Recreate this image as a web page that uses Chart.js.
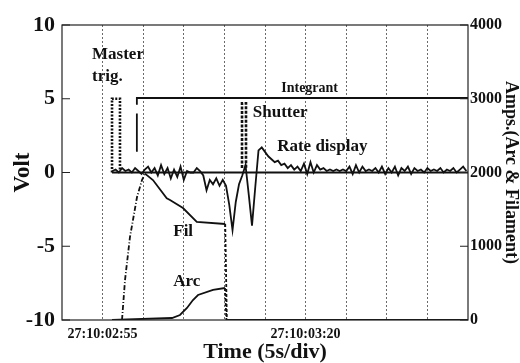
<!DOCTYPE html>
<html lang="en">
<head>
<meta charset="UTF-8">
<title>Shot trace</title>
<script src="https://cdn.jsdelivr.net/npm/chart.js"></script>
<style>
  html, body { margin: 0; padding: 0; overflow: hidden; background: #fff; }
</style>
</head>
<body>
<canvas id="scope" width="520" height="363"></canvas>
<script>
// time axis in seconds, left edge of the screen = 27:10:02:50, 5 s/div
const timeLabels = { 5: '27:10:02:55', 30: '27:10:03:20' };
const voltTicks = [-10, -5, 0, 5, 10];
const ampTicks = [0, 1000, 2000, 3000, 4000];

// [time s, volt]
const masterTrig = [[6.16, 0], [6.16, 5.0], [7.14, 5.0], [7.14, 0.1]];
const integrant = [[9.22, 1.4], [9.22, 4.0], [9.22, null], [9.22, 4.6], [9.22, 5.05], [50, 5.05]];
const shutter = [[22.17, 0.3], [22.17, 4.7], [22.66, 4.7], [22.66, 0.3]];
const zeroLine = [[6.16, 0], [50, 0]];

// rate display, sampled every 0.4 s from 6.2 s
const rateStart = 6.2;
const rateStep = 0.4;
const rateVolt = [
  0.1, 0.2, 0.0, 0.3, 0.1, 0.2, 0.0, 0.3, 0.1, -0.1,
  0.2, 0.4, 0.0, 0.3, -0.2, 0.5, -0.1, 0.3, -0.4, 0.2,
  -0.3, 0.4, -0.5, 0.1, 0.0, 0.0, 0.3, 0.1,
  -0.2, -1.2, -0.5, -0.8, -0.4, -0.9, -0.5, -0.9,
  -2.2, -3.9, -2.0, -0.8, -0.2, 0.5, -1.5, -3.6, -1.0, 1.5, 1.7, 1.4,
  1.1, 0.9, 0.7, 0.8, 0.5, 0.6, 0.3, 0.5, 0.2, 0.4, 0.1, 0.6,
  -0.1, 0.7, 0.0, 0.5, 0.2, 0.3, 0.1, 0.2, 0.1, 0.2,
  0.1, 0.2, 0.1, 0.4, -0.1, 0.5, 0.0, 0.4, 0.1, 0.2,
  0.1, 0.3, 0.0, 0.4, -0.1, 0.3, 0.0, 0.4, -0.2, 0.3,
  0.1, 0.4, -0.1, 0.3, 0.1, 0.2, 0.0, 0.3, 0.1, 0.2,
  0.1, 0.3, 0.0, 0.2, 0.1, 0.3, 0.0, 0.2, 0.4, 0.1
];

// [time s, amps]
const filAmps = [
  [7.39, 0], [7.76, 542], [8.37, 1125], [9.24, 1668], [9.85, 1898], [10.22, 1985],
  [11.2, 1898], [12.9, 1650], [13.3, 1627], [14.9, 1518], [16.6, 1329], [20.1, 1302],
  [20.3, 0], [50, 0]
];
const arcAmps = [
  [6.16, 0], [13.55, 27], [14.53, 68], [15.39, 163], [16.13, 271], [16.75, 339],
  [18.6, 407], [20.07, 434], [20.25, 0], [50, 0]
];

const labels = [
  { text: 'Master', t: 3.7, v: 7.97 },
  { text: 'trig.', t: 3.7, v: 6.47 },
  { text: 'Integrant', t: 27.0, v: 5.73, size: 14 },
  { text: 'Shutter', t: 23.5, v: 4.03 },
  { text: 'Rate display', t: 26.5, v: 1.73 },
  { text: 'Fil', t: 13.7, v: -4.03 },
  { text: 'Arc', t: 13.7, v: -7.42 }
];

const serif = "'Liberation Serif', 'DejaVu Serif', serif";
const toXY = arr => arr.map(p => ({ x: p[0], y: p[1] }));
const rateData = rateVolt.map((v, i) => [rateStart + i * rateStep, v]);

function line(data, extra) {
  return Object.assign({
    data: toXY(data),
    borderColor: '#111',
    borderWidth: 1.8,
    pointRadius: 0,
    tension: 0,
    fill: false,
    spanGaps: false,
    yAxisID: 'y'
  }, extra || {});
}

// tick marks pointing inward, plot frame and trace labels
const scopeDecor = {
  id: 'scopeDecor',
  afterDraw(chart) {
    const { ctx, chartArea: a, scales } = chart;
    ctx.save();
    ctx.strokeStyle = '#222';
    ctx.lineWidth = 1.2;
    ctx.strokeRect(a.left, a.top, a.right - a.left, a.bottom - a.top);
    ctx.beginPath();
    voltTicks.forEach(v => {
      const y = scales.y.getPixelForValue(v);
      ctx.moveTo(a.left, y); ctx.lineTo(a.left + 8, y);
    });
    ampTicks.forEach(v => {
      const y = scales.y1.getPixelForValue(v);
      ctx.moveTo(a.right, y); ctx.lineTo(a.right - 8, y);
    });
    ctx.stroke();

    ctx.fillStyle = '#111';
    ctx.textBaseline = 'middle';
    ctx.textAlign = 'left';
    labels.forEach(l => {
      ctx.font = 'bold ' + (l.size || 17) + 'px ' + serif;
      ctx.fillText(l.text, scales.x.getPixelForValue(l.t), scales.y.getPixelForValue(l.v));
    });
    ctx.restore();
  }
};

new Chart(document.getElementById('scope'), {
  type: 'line',
  data: {
    datasets: [
      line(zeroLine, { borderWidth: 2 }),
      line(rateData),
      line(masterTrig, { borderWidth: 2.6, borderDash: [2, 1.5] }),
      line(integrant),
      line(shutter, { borderWidth: 2.6, borderDash: [3, 1.5] }),
      line(filAmps, {
        yAxisID: 'y1',
        segment: {
          borderDash: c => {
            if (c.p1.parsed.x <= 10.22) return [5, 2, 1, 2];
            if (c.p0.parsed.x >= 20.1 && c.p1.parsed.x <= 20.4) return [3, 2];
            return undefined;
          }
        }
      }),
      line(arcAmps, {
        yAxisID: 'y1',
        segment: {
          borderDash: c => (c.p0.parsed.x >= 20 && c.p1.parsed.x <= 20.4) ? [3, 2] : undefined
        }
      })
    ]
  },
  options: {
    responsive: false,
    devicePixelRatio: 1,
    animation: false,
    layout: { padding: { top: 25, left: 0, right: 0, bottom: 0 } },
    plugins: { legend: { display: false }, tooltip: { enabled: false } },
    scales: {
      x: {
        type: 'linear',
        min: 0,
        max: 50,
        afterFit: s => { s.height = 43; },
        ticks: {
          stepSize: 5,
          autoSkip: false,
          maxRotation: 0,
          padding: 6,
          color: '#111',
          font: { family: serif, size: 14, weight: 'bold' },
          callback: v => timeLabels[v] || ''
        },
        grid: {
          drawTicks: false,
          lineWidth: 0.8,
          color: c => (c.tick && (c.tick.value === 0 || c.tick.value === 50)) ? 'rgba(0,0,0,0)' : '#444'
        },
        border: { display: false, dash: [2, 2] },
        title: {
          display: true,
          text: 'Time (5s/div)',
          color: '#111',
          padding: { top: 0, bottom: 0 },
          font: { family: serif, size: 22, weight: 'bold', lineHeight: 1 }
        }
      },
      y: {
        position: 'left',
        min: -10,
        max: 10,
        afterFit: s => { s.width = 62; },
        ticks: {
          stepSize: 5,
          padding: 7,
          color: '#111',
          font: { family: serif, size: 22, weight: 'bold' }
        },
        grid: { display: false, drawTicks: false },
        border: { display: false },
        title: {
          display: true,
          text: 'Volt',
          color: '#111',
          padding: { top: 12, bottom: 0 },
          font: { family: serif, size: 23, weight: 'bold', lineHeight: 1 }
        }
      },
      y1: {
        position: 'right',
        min: 0,
        max: 4000,
        afterFit: s => { s.width = 52; },
        ticks: {
          stepSize: 1000,
          padding: 2,
          color: '#111',
          font: { family: serif, size: 16, weight: 'bold' },
          callback: v => String(v)
        },
        grid: { display: false, drawTicks: false },
        border: { display: false },
        title: {
          display: true,
          text: 'Amps.(Arc & Filament)',
          color: '#111',
          padding: { top: 0, bottom: 0 },
          font: { family: serif, size: 18, weight: 'bold', lineHeight: 1 }
        }
      }
    }
  },
  plugins: [scopeDecor]
});
</script>
</body>
</html>
